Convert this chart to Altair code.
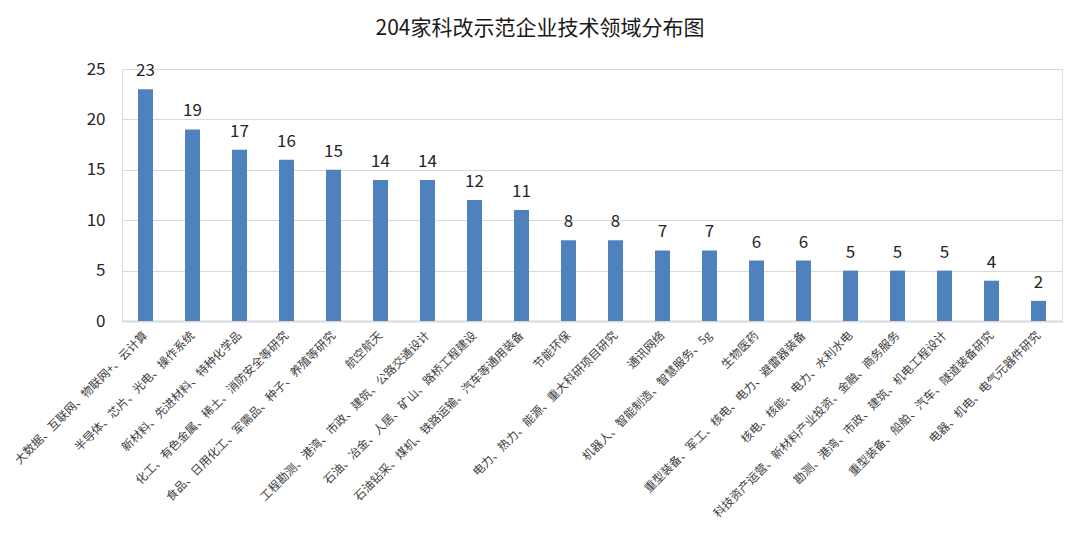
import altair as alt
import pandas as pd

categories = [
    "大数据、互联网、物联网+、云计算",
    "半导体、芯片、光电、操作系统",
    "新材料、先进材料、特种化学品",
    "化工、有色金属、稀土、消防安全等研究",
    "食品、日用化工、军需品、种子、养殖等研究",
    "航空航天",
    "工程勘测、港湾、市政、建筑、公路交通设计",
    "石油、冶金、人居、矿山、路桥工程建设",
    "石油钻采、煤机、铁路运输、汽车等通用装备",
    "节能环保",
    "电力、热力、能源、重大科研项目研究",
    "通讯网络",
    "机器人、智能制造、智慧服务、5g",
    "生物医药",
    "重型装备、军工、核电、电力、避雷器装备",
    "核电、核能、电力、水利水电",
    "科技资产运营、新材料产业投资、金融、商务服务",
    "勘测、港湾、市政、建筑、机电工程设计",
    "重型装备、船舶、汽车、隧道装备研究",
    "电器、机电、电气元器件研究",
]
values = [23, 19, 17, 16, 15, 14, 14, 12, 11, 8, 8, 7, 7, 6, 6, 5, 5, 5, 4, 2]
y_ticks = [0, 5, 10, 15, 20, 25]

df = pd.DataFrame({"cat": categories, "value": values})

FONT = "Noto Sans CJK SC"

x = alt.X(
    "cat:N",
    sort=categories,
    title=None,
    scale=alt.Scale(paddingInner=0, paddingOuter=0),
    axis=alt.Axis(
        labelAngle=-45,
        labelAlign="right",
        labelBaseline="middle",
        labelFontSize=11.7,
        labelFont=FONT,
        labelColor="#404040",
        labelPadding=12,
        labelLimit=400,
        ticks=False,
        domain=True,
        domainColor="#d9d9d9",
        domainWidth=2,
        labelOverlap=False,
    ),
)

y = alt.Y(
    "value:Q",
    title=None,
    scale=alt.Scale(domain=[0, 25], nice=False),
    axis=alt.Axis(
        values=y_ticks,
        labelFontSize=17,
        labelFont=FONT,
        labelColor="#262626",
        labelPadding=17,
        ticks=False,
        domain=False,
        gridColor="#d9d9d9",
        gridWidth=1,
    ),
)

base = alt.Chart(df).encode(x=x, y=y)

bars = base.mark_bar(size=15, color="#4F81BD")
labels = base.mark_text(
    baseline="bottom", dy=-9, fontSize=17, font=FONT, color="#262626"
).encode(text="value:Q")

chart = (
    (bars + labels)
    .properties(
        width=940,
        height=252,
        title=alt.TitleParams(
            "204家科改示范企业技术领域分布图",
            font=FONT,
            fontSize=21,
            fontWeight="normal",
            color="#1a1a1a",
            anchor="middle",
            dx=-52,
            offset=21,
        ),
        autosize=alt.AutoSizeParams(type="none"),
        padding={"left": 114, "top": 61, "right": 10, "bottom": 200},
    )
    .configure_view(stroke=None)
    .configure(background="white")
)

chart.save("out.html", embed_options={"renderer": "svg", "actions": False})
